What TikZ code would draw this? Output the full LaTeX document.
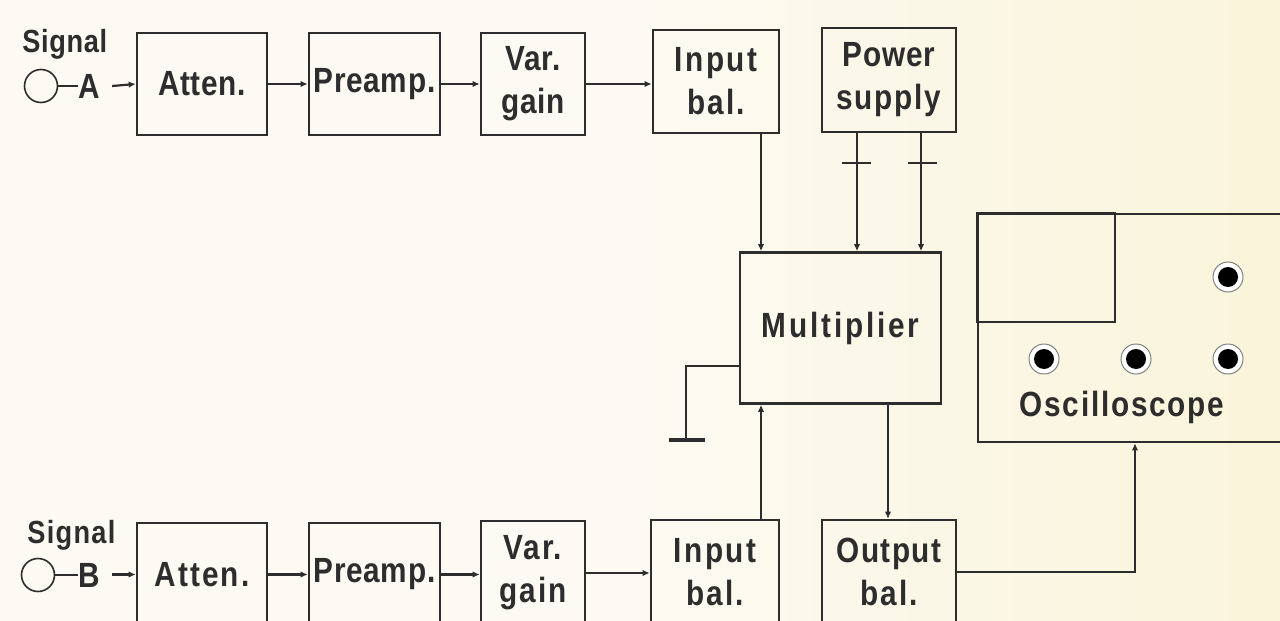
\documentclass[tikz,border=0pt]{standalone}
\usepackage{fontspec}
\setmainfont{Liberation Sans}
\newfontfamily\dfont[FakeStretch=0.85,LetterSpace=2]{Liberation Sans Bold}
\usetikzlibrary{arrows.meta}
\definecolor{paper}{RGB}{252,250,242}
\definecolor{paperR}{RGB}{250,244,218}
\definecolor{ink}{RGB}{45,45,45}
\newcommand{\bfs}{\dfont\fontsize{17.5}{21.5}\selectfont}
\newcommand{\sfs}{\dfont\fontsize{16}{18}\selectfont}
\newcommand{\ls}[1]{\addfontfeature{LetterSpace=#1}}
\begin{document}
\begin{tikzpicture}[x=0.5pt,y=-0.5pt,
  blk/.style={draw=ink, line width=1.3pt, align=center, font=\bfs, text=ink, inner sep=0pt},
  lbl/.style={font=\bfs, text=ink, inner sep=0pt},
  slbl/.style={font=\sfs, text=ink, inner sep=0pt},
  wire/.style={draw=ink, line width=1.1pt},
  arr/.style={wire, -{Latex[length=3.5pt,width=3.2pt]}},
  knob/.style={draw=ink!60, line width=0.5pt, fill=white}
]
\useasboundingbox (0,0) rectangle (1280,621);
\shade[left color=paper, right color=paperR, middle color=paper] (0,0) rectangle (1280,621);
\clip (0,0) rectangle (1280,621);

% ---- Top row (signal A)
\node[slbl, anchor=base west] (sigA) at (22,52) {Signal};
\node[draw=ink, line width=0.8pt, circle, minimum size=16.5pt, inner sep=0pt] (cA) at (41,86) {};
\node[lbl] (labA) at (89,86) {A};
\node[blk, minimum width=65pt, minimum height=51pt] (attA) at (202,84) {Atten.};
\node[blk, minimum width=65.5pt, minimum height=51pt] (preA) at (374.5,84) {Preamp.};
\node[blk, minimum width=52pt, minimum height=51pt] (varA) at (533,84) {Var.\\gain};
\node[blk, minimum width=63pt, minimum height=51.5pt] (inA) at (716,81.5) {{\ls{7}Input}\\{\ls{6}bal.}};
\node[blk, minimum width=67pt, minimum height=52pt] (pow) at (889,80) {Power\\{\ls{5}supply}};

% ---- Bottom row (signal B)
\node[slbl, anchor=base west] (sigB) at (27,543) {{\ls{4}Signal}};
\node[draw=ink, line width=0.8pt, circle, minimum size=16.5pt, inner sep=0pt] (cB) at (38,575) {};
\node[lbl] (labB) at (89,575) {B};
\node[blk, minimum width=65pt, minimum height=51.5pt] (attB) at (202,574.5) {{\ls{6}Atten.}};
\node[blk, minimum width=65.5pt, minimum height=51.5pt] (preB) at (374.5,574.5) {Preamp.};
\node[blk, minimum width=52pt, minimum height=52pt] (varB) at (533,573) {{\ls{5}Var.}\\{\ls{5}gain}};
\node[blk, minimum width=64pt, minimum height=52pt] (inB) at (715,572) {{\ls{7}Input}\\{\ls{6}bal.}};
\node[blk, minimum width=67pt, minimum height=52pt] (outB) at (889,572) {{\ls{4}Output}\\{\ls{6}bal.}};

% ---- Multiplier
\node[blk, minimum width=100.5pt, minimum height=75.5pt] (mult) at (840.5,328) {{\ls{8}Multiplier}};

% ---- Oscilloscope
\node[draw=ink, line width=1.3pt, minimum width=161pt, minimum height=114pt, inner sep=0pt] (osc) at (1139,328) {};
\coordinate (scr) at (1115,322);
\draw[ink, line width=1.1pt] (osc.north west) rectangle (scr);
\foreach \p in {(1228,277),(1044,359),(1136,359),(1228,359)}{
  \fill[knob] \p circle (7.5pt);
  \fill[black] \p circle (5pt);
}
\node[lbl] (osct) at (1122,407) {{\ls{5}Oscilloscope}};

% ---- Connectors top row
\draw[wire] (cA.east) -- (labA.west);
\draw[arr] ([xshift=6pt]labA.east) -- (attA.west);
\draw[arr] (attA) -- (preA);
\draw[arr] (preA) -- (varA);
\draw[arr] (varA.east) -- (inA.west |- varA.east);

% ---- Connectors bottom row
\draw[wire] (cB.east) -- (labB.west);
\draw[arr] ([xshift=6pt]labB.east |- attB.west) -- (attB.west);
\draw[arr] (attB.east) -- (preB.west |- attB.east);
\draw[arr] (preB.east) -- (varB.west |- preB.east);
\draw[arr] (varB.east) -- (inB.west |- varB.east);

% ---- Into multiplier
\coordinate (xa) at (761,0);
\coordinate (xp) at (857,0);
\coordinate (xm) at (921,0);
\coordinate (xo) at (888,0);
\coordinate (xs) at (1135,0);
\draw[arr] (inA.south -| xa) -- (mult.north -| xa);
\draw[arr] (pow.south -| xp) -- (mult.north -| xp);
\draw[arr] (pow.south -| xm) -- (mult.north -| xm);
% + and - marks
\coordinate (pm) at (857,163);
\coordinate (mm) at (921,163);
\draw[wire] ([xshift=-7.5pt]pm) -- ([xshift=7pt]pm);
\draw[wire] ([yshift=6pt]pm) -- ([yshift=-6pt]pm);
\draw[wire] ([xshift=-6.5pt]mm) -- ([xshift=8pt]mm);

\draw[arr] (inB.north -| xa) -- (mult.south -| xa);
\draw[arr] (mult.south -| xo) -- (outB.north -| xo);

% ---- Ground
\coordinate (g) at (686,366);
\coordinate (gb) at (686,440);
\draw[wire] (mult.west |- g) -- (g) -- (gb);
\draw[draw=ink, line width=2pt] ([xshift=-8.5pt]gb) -- ([xshift=9.5pt]gb);

% ---- Output to oscilloscope
\draw[arr] (outB.east) -- (outB.east -| xs) -- (osc.south -| xs);
\end{tikzpicture}
\end{document}
